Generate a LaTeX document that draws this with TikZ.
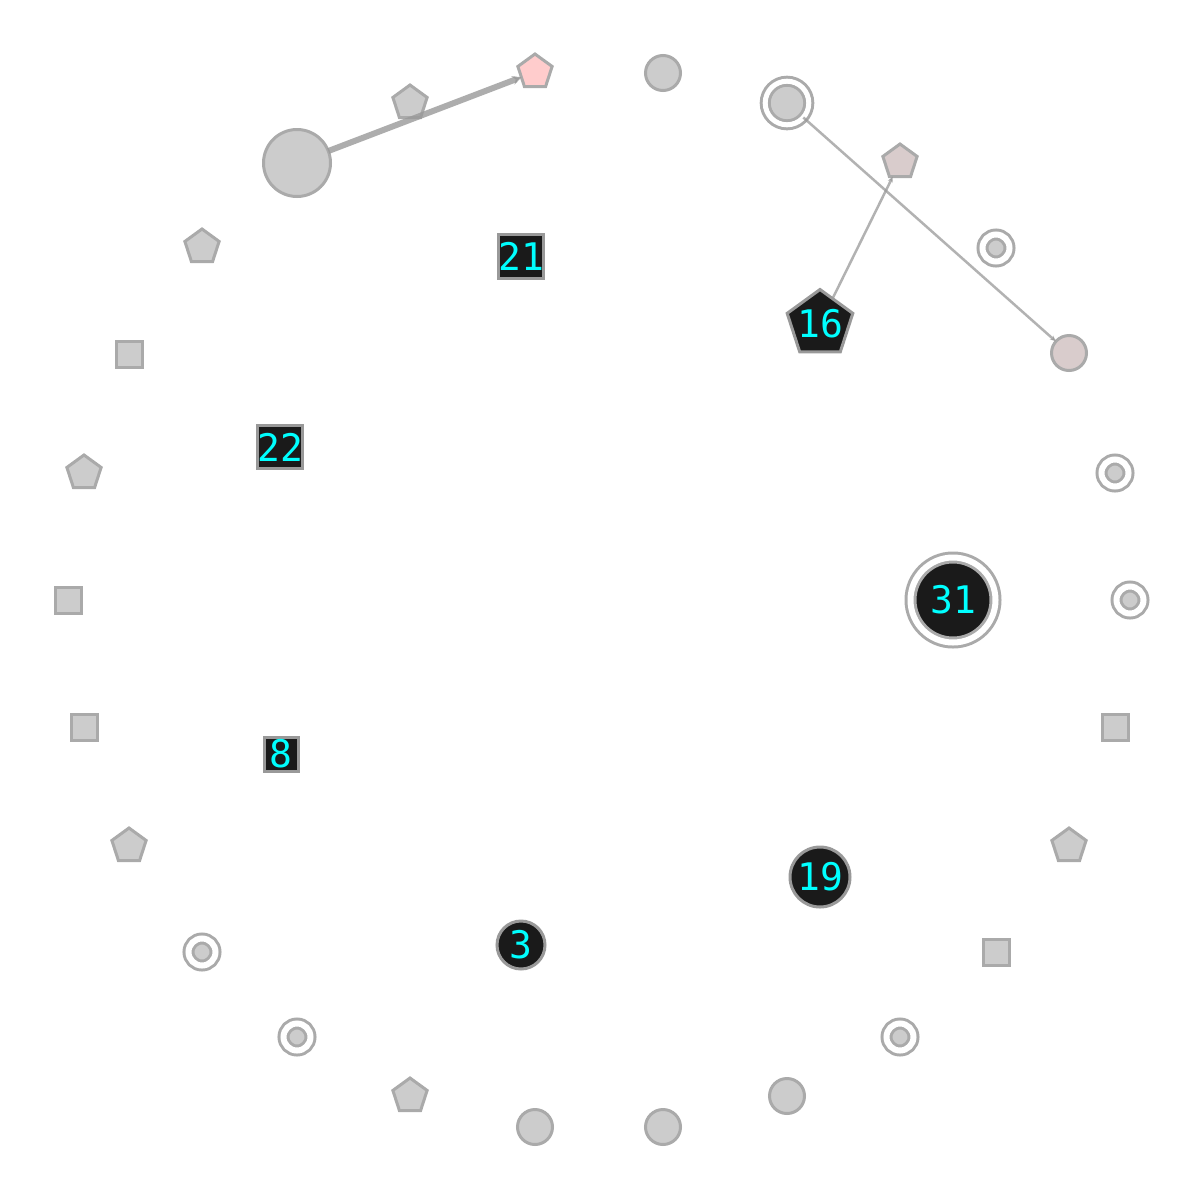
\documentclass[tikz,border=0pt]{standalone}
\usepackage{fontspec}
\setmonofont{DejaVu Sans Mono}
\usetikzlibrary{shapes.geometric,arrows.meta}
\definecolor{strokeg}{HTML}{AAAAAA}
\definecolor{fillg}{HTML}{CCCCCC}
\definecolor{pinkf}{HTML}{FFCCCC}
\definecolor{rosef}{HTML}{D9CCCC}
\definecolor{blkf}{HTML}{1A1A1A}
\definecolor{blkd}{HTML}{999999}
\definecolor{edgec}{HTML}{999999}
\definecolor{cyantxt}{HTML}{00FFFF}
\tikzset{
  base/.style={inner sep=0pt, outer sep=0pt, line width=3bp, draw=strokeg, fill=fillg},
  ringc/.style={base, circle, minimum size=35bp},
  ringd/.style={base, circle, double=white, double distance=6bp, minimum size=27bp},
  ringp/.style={base, regular polygon, regular polygon sides=5, minimum size=36bp},
  rings/.style={base, rectangle, minimum size=26bp},
  blk/.style={base, fill=blkf, draw=blkd, text=cyantxt,
    font=\ttfamily\fontsize{38bp}{40bp}\selectfont},
  thickedge/.style={draw=edgec, opacity=0.8, line width=6bp,
    -{Stealth[length=9bp,width=9bp]}},
  thinedge/.style={draw=edgec, opacity=0.75, line width=2.5bp,
    -{Stealth[length=6bp,width=5bp]}},
}
\begin{document}
\begin{tikzpicture}[x=1bp,y=-1bp]
\useasboundingbox[fill=white] (0,0) rectangle (1200,1200);
% ring
\node[ringp, fill=pinkf] (r1) at (535,72) {};
\node[ringc] (r2) at (663,73) {};
\node[ringd, minimum size=43.6bp, double distance=5bp] (r3) at (787,103) {};
\node[ringp, fill=rosef] (r4) at (900,162) {};
\node[ringd] (r5) at (996,248) {};
\node[ringc, fill=rosef] (r6) at (1069,353) {};
\node[ringd] (r7) at (1115,473) {};
\node[ringd] (r8) at (1130,600) {};
\node[rings] (r9) at (1115,727) {};
\node[ringp] (r10) at (1069,846) {};
\node[rings] (r11) at (996,952) {};
\node[ringd] (r12) at (900,1037) {};
\node[ringc] (r13) at (787,1096) {};
\node[ringc] (r14) at (663,1127) {};
\node[ringc] (r15) at (535,1127) {};
\node[ringp] (r16) at (410,1096) {};
\node[ringd] (r17) at (297,1037) {};
\node[ringd] (r18) at (202,952) {};
\node[ringp] (r19) at (129,846) {};
\node[rings] (r20) at (84,727) {};
\node[rings] (r21) at (68,600) {};
\node[ringp] (r22) at (84,473) {};
\node[rings] (r23) at (129,354) {};
\node[ringp] (r24) at (202,247) {};
\node[ringc, minimum size=67bp] (r25) at (297,163) {};
\node[ringp] (r26) at (410,103) {};
% inner labelled nodes
\node[blk, rectangle, minimum size=44bp] (n21) at (521,256) {21};
\node[blk, rectangle, minimum size=43bp] (n22) at (280,447) {22};
\node[blk, rectangle, minimum size=34bp] (n8) at (281,754) {8};
\node[blk, regular polygon, regular polygon sides=5, inner sep=-7bp, minimum size=69bp] (n16) at (820,324) {16};
\node[blk, circle, double=white, double distance=6bp, draw=strokeg, minimum size=85bp] (n31) at (953,600) {31};
\node[blk, circle, minimum size=60bp] (n19) at (820,877) {19};
\node[blk, circle, minimum size=48bp] (n3) at (521,945) {3};
% edges
\draw[thickedge] (r25) -- (r1);
\draw[thinedge] (r3) -- (r6);
\draw[thinedge] (n16) -- (r4);
\end{tikzpicture}
\end{document}
